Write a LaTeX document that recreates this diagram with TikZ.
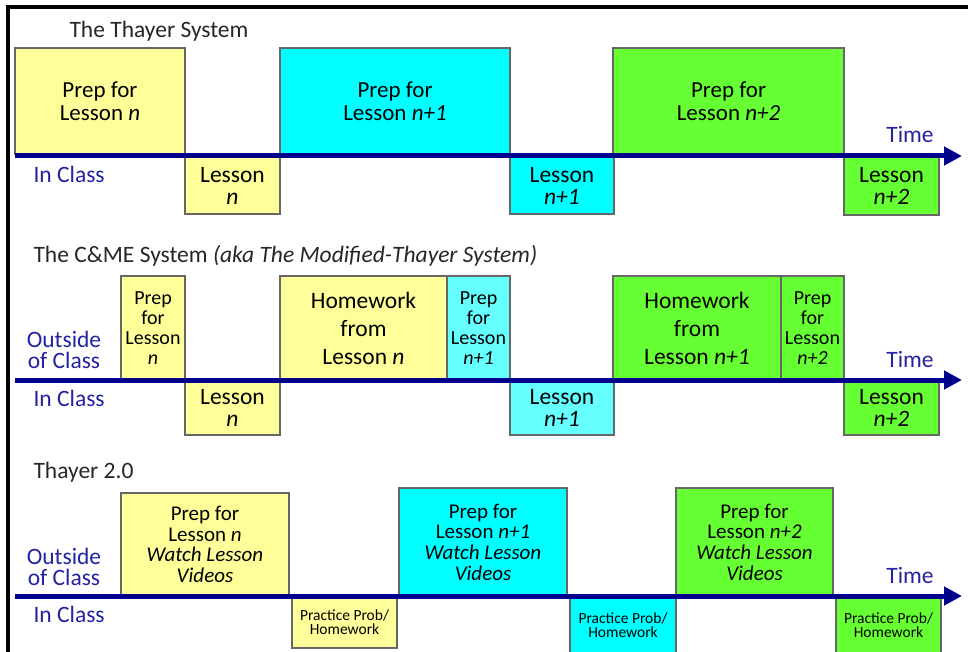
\documentclass[tikz,border=0pt]{standalone}
\usepackage{fontspec}
\setmainfont{Carlito}
\usetikzlibrary{arrows.meta}
\definecolor{ylw}{RGB}{255,255,153}
\definecolor{cyn}{RGB}{0,255,255}
\definecolor{lcyn}{RGB}{102,255,255}
\definecolor{grn}{RGB}{102,255,51}
\definecolor{navy}{RGB}{0,0,140}
\definecolor{lblue}{RGB}{35,35,160}
\definecolor{ttl}{RGB}{38,38,38}

\begin{document}
\begin{tikzpicture}[x=1pt,y=-1pt,
  slot/.style={rectangle,draw=black!60,line width=1.2pt,fill=#1,inner sep=0pt,outer sep=0pt,anchor=north west,align=center},
  sz/.style 2 args={minimum width=#1,minimum height=#2},
  bigtxt/.style={font=\fontsize{23}{23}\selectfont},
  thintxt/.style={font=\fontsize{20}{20}\selectfont},
  hwtxt/.style={font=\fontsize{23.5}{28}\selectfont},
  vidtxt/.style={font=\fontsize{21}{20.7}\selectfont},
  lsntxt/.style={font=\fontsize{23.5}{22}\selectfont},
  probtxt/.style={font=\fontsize{15.5}{14}\selectfont},
  title/.style={anchor=base west,text=ttl,font=\fontsize{23.5}{28}\selectfont},
  side/.style={text=lblue,align=center,font=\fontsize{23.5}{21}\selectfont},
  tline/.style={line width=5pt,draw=navy,-{Triangle[length=18pt,width=18pt]}}]

  \useasboundingbox (0,0) rectangle (968,652);
  \clip (0,0) rectangle (968,652);
  \draw[line width=3.5pt] (8,652) -- (8,7) -- (968,7);

  % The Thayer System
  \node[title] (titleA) at (66,38) {The Thayer System};
  \node[slot=ylw,sz={170}{106},bigtxt] (prepA1) at (15,48) {Prep for\\Lesson \textit{n}};
  \node[slot=cyn,sz={230}{106},bigtxt] (prepA2) at (280,48) {Prep for\\Lesson \textit{n+1}};
  \node[slot=grn,sz={231}{106},bigtxt] (prepA3) at (613,48) {Prep for\\Lesson \textit{n+2}};
  \node[slot=ylw,sz={95}{57},lsntxt] (lsnA1) at (185,157) {Lesson\\\textit{n}};
  \node[slot=cyn,sz={104}{57},lsntxt] (lsnA2) at (510,157) {Lesson\\\textit{n+1}};
  \node[slot=grn,sz={95}{58},lsntxt] (lsnA3) at (844,157) {Lesson\\\textit{n+2}};
  \coordinate (startA) at (15,156);
  \coordinate (endA) at (962,156);
  \draw[tline] (startA) -- (endA);
  \node[side,anchor=base west] (inA) at (30,183) {In Class};
  \node[side,anchor=base] (timeA) at (910,143) {Time};

  % The C&ME System
  \node[title] (titleB) at (30,262) {The C\&ME System \textit{(aka The Modified-Thayer System)}};
  \node[slot=ylw,sz={64}{104},thintxt] (prepB1) at (121,276) {Prep\\for\\Lesson\\\textit{n}};
  \node[slot=ylw,sz={167}{104},hwtxt] (hwB1) at (280,276) {Homework\\from\\Lesson \textit{n}};
  \node[slot=lcyn,sz={63}{104},thintxt] (prepB2) at (447,276) {Prep\\for\\Lesson\\\textit{n+1}};
  \node[slot=grn,sz={168}{104},hwtxt] (hwB2) at (613,276) {Homework\\from\\Lesson \textit{n+1}};
  \node[slot=grn,sz={63}{104},thintxt] (prepB3) at (781,276) {Prep\\for\\Lesson\\\textit{n+2}};
  \node[slot=ylw,sz={95}{54},lsntxt] (lsnB1) at (185,381) {Lesson\\\textit{n}};
  \node[slot=lcyn,sz={104}{54},lsntxt] (lsnB2) at (510,381) {Lesson\\\textit{n+1}};
  \node[slot=grn,sz={95}{54},lsntxt] (lsnB3) at (844,381) {Lesson\\\textit{n+2}};
  \coordinate (startB) at (15,380);
  \coordinate (endB) at (962,380);
  \draw[tline] (startB) -- (endB);
  \node[side] (outB) at (64,350) {Outside\\of Class};
  \node[side,anchor=base west] (inB) at (30,406) {In Class};
  \node[side,anchor=base] (timeB) at (910,367) {Time};

  % Thayer 2.0
  \node[title] (titleC) at (30,478) {Thayer 2.0};
  \node[slot=ylw,sz={168}{103},vidtxt] (prepC1) at (121,493) {Prep for\\Lesson \textit{n}\\\textit{Watch Lesson}\\\textit{Videos}};
  \node[slot=cyn,sz={168}{108},vidtxt] (prepC2) at (399,488) {Prep for\\Lesson \textit{n+1}\\\textit{Watch Lesson}\\\textit{Videos}};
  \node[slot=grn,sz={157}{108},vidtxt] (prepC3) at (676,488) {Prep for\\Lesson \textit{n+2}\\\textit{Watch Lesson}\\\textit{Videos}};
  \node[slot=ylw,sz={105}{51},probtxt] (probC1) at (292,597) {Practice Prob/\\Homework};
  \node[slot=cyn,sz={106}{57},probtxt] (probC2) at (570,597) {Practice Prob/\\Homework};
  \node[slot=grn,sz={105}{57},probtxt] (probC3) at (836,597) {Practice Prob/\\Homework};
  \coordinate (startC) at (15,596);
  \coordinate (endC) at (962,596);
  \draw[tline] (startC) -- (endC);
  \node[side] (outC) at (64,567) {Outside\\of Class};
  \node[side,anchor=base west] (inC) at (30,622) {In Class};
  \node[side,anchor=base] (timeC) at (910,583) {Time};
\end{tikzpicture}
\end{document}
